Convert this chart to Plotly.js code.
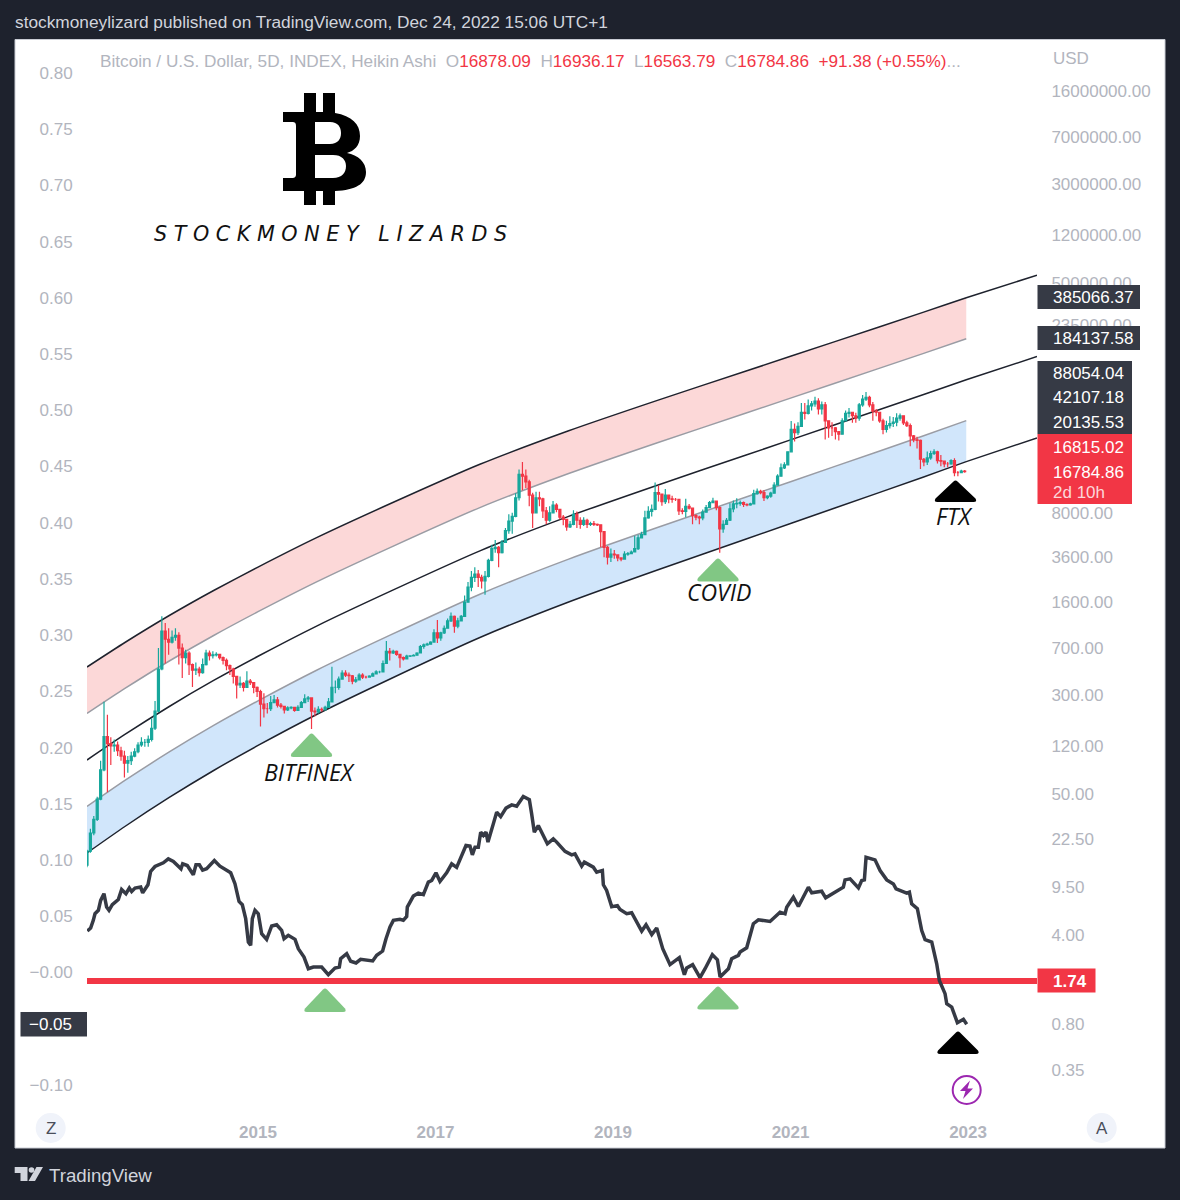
<!DOCTYPE html>
<html><head><meta charset="utf-8">
<script src="https://cdn.plot.ly/plotly-3.0.1.min.js"></script>
<style>html,body{margin:0;padding:0;background:#1e222d}</style></head>
<body><div id="chart" style="width:1180px;height:1200px"></div>
<script>
// ---- Heikin Ashi candles, 14-day steps starting at candleStart (decimal years), USD
const candleStart = 2013.073, candleStepDays = 14;
const candleOpen = [
14,18,25,32,46,78,142,125,120,122,110,100,88,92,100,108,122,128,128,135,165,225,480,950,820,
780,850,880,700,590,640,520,470,480,450,520,640,610,620,625,590,560,510,480,420,360,370,345,385,375,345,
320,255,235,235,262,275,250,245,230,238,240,228,240,262,280,285,225,222,232,230,240,265,345,345,400,445,
430,425,385,395,430,415,415,422,440,455,455,530,660,640,660,625,590,575,605,608,615,640,720,740,750,780,
920,840,920,1000,1140,1240,1040,1140,1240,1600,2100,2500,2650,2500,2350,2550,3400,4200,4300,3900,4700,5800,6900,7500,10500,16000,
15500,14000,11000,8000,10500,10300,8300,7000,8000,9200,8500,7400,7100,6200,6500,7800,7000,6500,7000,6500,6600,6500,6450,5700,4300,3600,
3800,3750,3550,3480,3800,3830,3950,4200,5100,5400,7300,8200,8500,11500,11200,9800,11000,10300,10200,10200,8300,8200,9000,8700,7600,7400,
7300,8100,8800,9600,9900,8800,6000,6500,7000,8600,9400,9500,9600,9300,9250,9400,11300,11800,11500,10500,10800,11400,13200,15500,18000,19000,
24000,36000,34000,38000,49000,48000,55000,57000,60000,52000,56000,42000,37000,37000,34500,33000,42000,48000,49000,46000,44000,56000,62000,64000,56000,50000,
49000,42000,36000,38500,40000,41000,44000,46000,40500,38500,32000,29800,29500,21000,20000,21500,23300,24000,20500,20300,19300,19300,20500,16500,16500,17000];
const candleHigh = [
18.5,27,34,48,92,266,210,140,135,130,118,110,100,108,115,128,140,136,145,198,270,700,1240,1100,1000,
960,1000,930,760,680,660,530,540,500,580,680,670,660,650,630,600,580,520,490,420,420,380,460,400,380,350,
330,310,260,295,300,290,260,248,245,245,240,250,270,305,295,288,240,245,240,248,285,500,390,420,470,470,
450,430,415,445,445,425,428,450,470,465,560,795,700,680,670,630,600,620,615,625,650,740,760,770,790,980,
1160,940,1050,1190,1330,1260,1210,1270,1800,2300,2800,3000,2850,2620,2800,3500,4500,4900,4400,4900,6100,7800,8000,11400,17500,20000,
17500,14500,11500,11700,11700,10500,8900,9000,9900,9500,8600,7700,7200,6900,8400,8200,7400,7400,7200,6800,6900,6600,6500,5700,4400,4200,
4100,3800,3600,4000,3950,4050,5300,5400,5700,8300,9000,9300,13800,13100,11000,12300,11000,10900,10450,10300,8700,10300,9400,8800,7800,7600,
8500,9200,9900,10500,10000,9000,7000,7300,9500,10000,10400,10000,9800,9500,9600,12100,12400,12100,12050,11000,11700,13900,16000,19500,19900,24300,
41900,40000,41000,58000,58000,61700,60000,64800,63000,59500,59000,42500,41000,37500,35000,44000,50500,52900,49500,48500,58000,67000,70500,66000,59000,52000,
49000,43500,42000,45500,45000,48200,48000,46000,42000,40000,32500,31500,30000,21500,24200,24500,25200,24500,22700,20400,20000,21000,21400,17000,17400,17300];
const candleLow = [
13.5,17.5,24,31,45,76,52,85,108,100,92,68,74,85,98,105,118,118,118,130,160,220,470,530,620,
760,800,520,408,530,430,347,430,420,440,510,560,580,600,570,520,470,430,370,282,340,320,340,360,310,290,
170,200,215,225,260,240,235,215,225,232,222,225,238,260,265,163,205,215,222,228,240,262,310,330,395,415,
380,365,375,390,400,405,412,418,435,445,450,525,560,630,610,490,560,570,595,600,610,635,690,730,745,775,
767,800,900,990,1120,920,1000,1130,1230,1580,1950,2300,2100,2050,1830,2500,3350,3900,3000,3850,4650,5500,5500,7400,10000,12000,
12500,9000,6100,7900,9000,7300,6500,6800,7900,8100,7100,6400,5800,6100,6400,6100,6000,6300,6100,6300,6300,6300,4300,3600,3150,3300,
3500,3350,3350,3450,3700,3800,3950,4100,5050,5400,7200,7500,8400,9800,9100,9400,9500,9600,9900,7700,7800,7400,8500,6500,7000,6500,
7000,8000,8700,9500,8400,3900,5600,6500,6900,8100,8700,9100,8900,9000,9100,9300,11100,11200,9900,10200,10500,11300,13100,15400,17600,18800,
23800,28900,32500,37500,43000,47000,50500,54000,47000,47000,30000,31000,32000,30000,29500,32800,41500,44500,40500,40500,42000,54000,60000,53500,42000,45500,
40500,33000,34000,36500,37500,38000,42000,39000,37500,26500,28500,25500,17600,18500,18900,20800,22700,19500,18500,18200,18200,19000,15500,15500,16300,16500];
const candleClose = [
18,25,32,46,78,142,125,120,122,110,100,88,92,100,108,122,128,128,135,165,225,480,950,820,780,
850,880,700,590,640,520,470,480,450,520,640,610,620,625,590,560,510,480,420,360,370,345,385,375,345,320,
255,235,235,262,275,250,245,230,238,240,228,240,262,280,285,225,222,232,230,240,265,345,345,400,445,430,
425,385,395,430,415,415,422,440,455,455,530,660,640,660,625,590,575,605,608,615,640,720,740,750,780,920,
840,920,1000,1140,1240,1040,1140,1240,1600,2100,2500,2650,2500,2350,2550,3400,4200,4300,3900,4700,5800,6900,7500,10500,16000,15500,
14000,11000,8000,10500,10300,8300,7000,8000,9200,8500,7400,7100,6200,6500,7800,7000,6500,7000,6500,6600,6500,6450,5700,4300,3600,3800,
3750,3550,3480,3800,3830,3950,4200,5100,5400,7300,8200,8500,11500,11200,9800,11000,10300,10200,10200,8300,8200,9000,8700,7600,7400,7300,
8100,8800,9600,9900,8800,6000,6500,7000,8600,9400,9500,9600,9300,9250,9400,11300,11800,11500,10500,10800,11400,13200,15500,18000,19000,24000,
36000,34000,38000,49000,48000,55000,57000,60000,52000,56000,42000,37000,37000,34500,33000,42000,48000,49000,46000,44000,56000,62000,64000,56000,50000,49000,
42000,36000,38500,40000,41000,44000,46000,40500,38500,32000,29800,29500,21000,20000,21500,23300,24000,20500,20300,19300,19300,20500,16500,16500,17000,16785];

// ---- Logarithmic regression bands (USD) read at these years
const bandYears = [2013.073,2013.5,2014,2014.5,2015,2015.66,2016.5,2017.5,2018.5,2019.5,2020.5,2021.5,2022.5,2022.98,2023.777];
const bandLine5 = [17.44,28.1,47.4,77.1,121,211.5,404.6,846.5,1606,2858,4994,8732,15260,20135.53,30830];
const bandLine4 = [40.3,64.4,107.6,173.5,270.2,469.2,890.6,1847,3472,6134,10644,18480,32070,42107.18,64170];
const bandLine3 = [93.1,147.5,244.2,390.3,603.6,1040,1960,4032,7507,13170,22680,39090,67380,88054.04,133600];
const bandLine2 = [215.3,337.8,554.3,877.8,1348,2307,4316,8795,16230,28280,48340,82730,141600,184137.58,278200];
const bandLine1 = [497.5,773.6,1258,1975,3011,5116,9502,19190,35100,60700,103000,175000,297400,385066.37,579100];

// ---- Oscillator (left axis)
const oscYears = [2013.077,2013.114,2013.144,2013.163,2013.201,2013.227,2013.264,2013.294,2013.321,2013.358,2013.426,2013.463,2013.512,2013.550,2013.576,2013.614,2013.678,2013.700,2013.760,2013.790,2013.839,2013.933,2013.989,2014.046,2014.132,2014.151,2014.203,2014.271,2014.301,2014.339,2014.376,2014.421,2014.508,2014.571,2014.692,2014.740,2014.786,2014.823,2014.861,2014.891,2014.917,2014.936,2014.966,2015.003,2015.041,2015.097,2015.154,2015.210,2015.266,2015.293,2015.341,2015.417,2015.454,2015.518,2015.567,2015.623,2015.717,2015.792,2015.867,2015.916,2015.931,2015.999,2016.044,2016.104,2016.156,2016.292,2016.337,2016.404,2016.442,
2016.487,2016.525,2016.600,2016.637,2016.675,2016.682,2016.750,2016.806,2016.863,2016.919,2016.957,2017.005,2017.050,2017.125,2017.182,2017.238,2017.295,2017.343,2017.388,2017.415,2017.445,2017.482,2017.509,2017.539,2017.569,2017.591,2017.651,2017.689,2017.734,2017.794,2017.858,2017.914,2017.989,2018.057,2018.083,2018.113,2018.158,2018.215,2018.260,2018.327,2018.365,2018.459,2018.534,2018.571,2018.647,2018.677,2018.778,2018.816,2018.880,2018.891,2018.928,2018.985,2019.049,2019.079,2019.154,2019.210,2019.323,2019.372,2019.436,2019.492,2019.560,2019.642,2019.747,2019.804,2019.830,2019.897,2019.980,
2020.037,2020.119,2020.176,2020.206,2020.300,2020.337,2020.412,2020.431,2020.506,2020.581,2020.638,2020.769,2020.882,2020.938,2020.957,2021.032,2021.088,2021.201,2021.239,2021.351,2021.396,2021.520,2021.595,2021.614,2021.671,2021.765,2021.802,2021.832,2021.851,2021.952,2022.009,2022.084,2022.159,2022.189,2022.309,2022.339,2022.365,2022.429,2022.478,2022.516,2022.591,2022.647,2022.677,2022.741,2022.760,2022.816,2022.880,2022.948,2022.985];
const oscValues = [0.0369,0.0396,0.0464,0.0523,0.0553,0.0641,0.0701,0.0582,0.0553,0.0603,0.0650,0.0739,0.0701,0.0751,0.0721,0.0751,0.0760,0.0709,0.0780,0.0899,0.0943,0.0976,0.1011,0.0988,0.0923,0.0967,0.0952,0.0869,0.0958,0.0958,0.0911,0.0923,0.0996,0.0946,0.0887,0.0790,0.0632,0.0603,0.0479,0.0271,0.0242,0.0479,0.0553,0.0523,0.0345,0.0295,0.0414,0.0425,0.0375,0.0301,0.0331,0.0295,0.0212,0.0138,0.0034,0.0049,0.0049,-0.0019,0.0040,0.0049,0.0123,0.0168,0.0100,0.0085,0.0117,0.0103,0.0153,0.0191,0.0301,
0.0405,0.0464,0.0473,0.0464,0.0499,0.0582,0.0680,0.0706,0.0692,0.0804,0.0819,0.0887,0.0810,0.0887,0.0967,0.0935,0.1035,0.1130,0.1124,0.1047,0.1115,0.1115,0.1248,0.1219,0.1248,0.1160,0.1322,0.1426,0.1387,0.1462,0.1491,0.1479,0.1565,0.1538,0.1411,0.1248,0.1307,0.1219,0.1145,0.1189,0.1160,0.1077,0.1047,0.1056,0.0946,0.0982,0.0937,0.0893,0.0908,0.0780,0.0730,0.0586,0.0595,0.0561,0.0523,0.0532,0.0369,0.0425,0.0337,0.0396,0.0212,0.0070,0.0132,-0.0019,0.0040,0.0070,-0.0045,
0.0034,0.0158,0.0114,-0.0040,0.0034,0.0123,0.0153,0.0182,0.0220,0.0434,0.0469,0.0454,0.0537,0.0522,0.0581,0.0670,0.0587,0.0759,0.0709,0.0723,0.0664,0.0723,0.0759,0.0824,0.0833,0.0753,0.0818,0.0824,0.1025,0.1002,0.0907,0.0824,0.0788,0.0744,0.0706,0.0715,0.0611,0.0567,0.0374,0.0292,0.0271,0.0078,-0.0070,-0.0188,-0.0277,-0.0307,-0.0446,-0.0416,-0.0460];

// ---- Horizontal level (USD) and axis ticks
const levelValue = 1.74;
const xTickYears = [2015,2017,2019,2021,2023];
const leftTickVals = [0.8,0.75,0.7,0.65,0.6,0.55,0.5,0.45,0.4,0.35,0.3,0.25,0.2,0.15,0.1,0.05,0,-0.1];
const leftTickText = ['0.80','0.75','0.70','0.65','0.60','0.55','0.50','0.45','0.40','0.35','0.30','0.25','0.20','0.15','0.10','0.05','\u22120.00','\u22120.10'];
const rightTickVals = [16000000,7000000,3000000,1200000,500000,235000,8000,3600,1600,700,300,120,50,22.5,9.5,4,0.8,0.35];
const rightTickText = ['16000000.00','7000000.00','3000000.00','1200000.00','500000.00','235000.00','8000.00','3600.00','1600.00','700.00','300.00','120.00','50.00','22.50','9.50','4.00','0.80','0.35'];

// ---- page geometry helpers
const L=87,R=1037,T=40,B=1114;
const px=x=>(x-L)/(R-L), py=y=>(B-y)/(B-T);
const FONT='"Liberation Sans", Arial, sans-serif';
const GREY='#b2b5be', RED='#f23645', DARK='#363a45', GREEN='#81c784';

function pathFrom(cmds){
  return cmds.map(c=>{
    if(c[0]==='Z') return 'Z';
    let s=c[0];
    for(let i=1;i<c.length;i+=2){ s+=(i>1?' ':'')+px(c[i]).toFixed(5)+','+py(c[i+1]).toFixed(5); }
    return s;
  }).join(' ');
}
const shapes=[];
function addShape(cmds,fill,extra){ shapes.push(Object.assign({type:'path',xref:'paper',yref:'paper',path:pathFrom(cmds),fillcolor:fill,line:{width:0},layer:'above'},extra||{})); }
function rect(x0,y0,x1,y1,fill,layer,line){ shapes.push({type:'rect',xref:'paper',yref:'paper',x0:px(x0),x1:px(x1),y0:py(y0),y1:py(y1),fillcolor:fill,line:line||{width:0},layer:layer||'above'}); }
function circle(cx,cy,r,fill,line){ shapes.push({type:'circle',xref:'paper',yref:'paper',x0:px(cx-r),x1:px(cx+r),y0:py(cy-r),y1:py(cy+r),fillcolor:fill,line:line||{width:0},layer:'above'}); }
function triangle(cx,top,base,fill){
  const h=21;
  addShape([['M',cx-2,top+1.5],['Q',cx,top-0.5,cx+2,top+1.5],['L',cx+h-1,base-3.5],['Q',cx+h+1,base,cx+h-3,base],['L',cx-h+3,base],['Q',cx-h-1,base,cx-h+1,base-3.5],['Z']],fill);
}
rect(15,39.5,1165,1148,'#ffffff','below',{width:1,color:'#c9ccd4'});
rect(1037.5,285,1140,309,DARK); rect(1037.5,326,1140,350,DARK);
rect(1037.5,361,1132,434,DARK); rect(1037.5,434,1132,504,RED);
rect(1037.5,968.5,1095.5,992.5,RED); rect(20.5,1012,87,1036.5,DARK);
triangle(311.5,733,757,GREEN); triangle(718,558,581.5,GREEN); triangle(955.5,480,502,'#000000');
triangle(325,988,1012,GREEN); triangle(718,986,1009.5,GREEN); triangle(958,1031,1054,'#000000');
addShape([['M',283,112],['L',304,112],['L',304,93],['L',316,93],['L',316,112],['L',323,112],['L',323,93],['L',335,93],['L',335,113],
  ['C',352,116,360,124,360,136],['C',360,146,354,151,347,153],['C',358,155,366,162,366,172],['C',366,184,356,190,335,191],
  ['L',335,205],['L',323,205],['L',323,191],['L',316,191],['L',316,205],['L',304,205],['L',304,191],['L',283,191],['L',283,178],['L',292,178],
  ['C',295,178,296,177,296,174],['L',296,126],['C',296,123,295,122,292,122],['L',283,122],['Z'],
  ['M',315,122],['L',315,144],['L',330,144],['C',338,144,341,139,341,133],['C',341,127,338,122,330,122],['Z'],
  ['M',315,155],['L',315,178],['L',333,178],['C',342,178,346,173,346,166],['C',346,160,342,155,333,155],['Z']],'#000000',{fillrule:'evenodd'});
circle(50.7,1128,15,'#f0f3fa'); circle(1101.7,1128,15,'#f0f3fa');
circle(966.7,1090,14,'#ffffff',{width:2,color:'#9c27b0'});
addShape([['M',970,1080.5],['L',960,1091],['L',965.5,1091],['L',963,1099],['L',973,1088.5],['L',967.5,1088.5],['Z']],'#9c27b0');
addShape([['M',14.7,1167],['L',27.5,1167],['L',27.5,1181],['L',20.5,1181],['L',20.5,1173],['L',14.7,1173],['Z'],
  ['M',36.5,1167],['L',43,1167],['L',35,1181],['L',28.5,1181],['Z']],'#d1d4dc');
circle(31.5,1170,2.8,'#d1d4dc');

function note(text,x,y,size,color,anchor,family){
  return {text:text,xref:'paper',yref:'paper',x:px(x),y:py(y),xanchor:anchor||'left',yanchor:'middle',showarrow:false,borderpad:0,
          font:{family:family||FONT,size:size,color:color}};
}
const g=t=>'<span style="color:'+GREY+'">'+t+'</span>', r=t=>'<span style="color:'+RED+'">'+t+'</span>';
const NB='\u00a0\u00a0';
const annotations=[
 note('stockmoneylizard published on TradingView.com, Dec 24, 2022 15:06 UTC+1',13.5,22,17.3,'#d1d4dc'),
 note(g('Bitcoin / U.S. Dollar, 5D, INDEX, Heikin Ashi'+NB+'O')+r('16878.09')+g(NB+'H')+r('16936.17')+g(NB+'L')+r('16563.79')+g(NB+'C')+r('16784.86'+NB+'+91.38 (+0.55%)')+g('...'),98.5,61,17.2,GREY),
 note('USD',1051.5,58,17,GREY),
 note('385066.37',1051.5,297,17,'#ffffff'), note('184137.58',1051.5,338,17,'#ffffff'),
 note('88054.04',1051.5,373,17,'#ffffff'), note('42107.18',1051.5,397.5,17,'#ffffff'), note('20135.53',1051.5,422.5,17,'#ffffff'),
 note('16815.02',1051.5,447.5,17,'#ffffff'), note('16784.86',1051.5,472,17,'#ffffff'), note('2d 10h',1051.5,492,17,'#fcd7da'),
 note('<b>1.74</b>',1051.5,981,17,'#ffffff'),
 note('\u22120.05',72.5,1024.5,17,'#ffffff','right'),
 note('<i>S T O C K M O N E Y   L I Z A R D S</i>',153,234,20.7,'#111111','left','"DejaVu Sans", sans-serif'),
 note('<i>BITFINEX</i>',309,772,23,'#111111','center','"Open Sans", sans-serif'),
 note('<i>COVID</i>',718.5,592,23,'#111111','center','"Open Sans", sans-serif'),
 note('<i>FTX</i>',954,516,23,'#111111','center','"Open Sans", sans-serif'),
 note('Z',50.7,1128,17,'#4a4e5a','center'), note('A',1101.7,1128,17,'#4a4e5a','center'),
 note('TradingView',47.5,1175,18.7,'#d1d4dc')
];

const candleX=candleOpen.map((_,i)=>candleStart+i*candleStepDays/365.25);
const n14=14;
function bandFill(lo,hi,color){
  return [{type:'scatter',mode:'lines',x:bandYears.slice(0,n14),y:lo.slice(0,n14),yaxis:'y2',line:{width:0,shape:'spline',smoothing:0.6},hoverinfo:'skip',showlegend:false},
          {type:'scatter',mode:'lines',x:bandYears.slice(0,n14),y:hi.slice(0,n14),yaxis:'y2',fill:'tonexty',fillcolor:color,line:{width:0,shape:'spline',smoothing:0.6},hoverinfo:'skip',showlegend:false}];
}
function bandLine(vals,count,color,w){
  return {type:'scatter',mode:'lines',x:bandYears.slice(0,count),y:vals.slice(0,count),yaxis:'y2',line:{color:color,width:w,shape:'spline',smoothing:0.6},hoverinfo:'skip',showlegend:false};
}
const traces=[
 {type:'scatter',mode:'lines',x:[candleStart],y:[0],yaxis:'y',line:{width:0},hoverinfo:'skip',showlegend:false},
 ...bandFill(bandLine5,bandLine4,'#d1e6fb'),
 ...bandFill(bandLine2,bandLine1,'#fcd8d8'),
 bandLine(bandLine1,15,'#1e222d',1.5),
 bandLine(bandLine2,14,'#9a9ca4',1.5),
 bandLine(bandLine3,15,'#1e222d',1.5),
 bandLine(bandLine4,14,'#9a9ca4',1.5),
 bandLine(bandLine5,15,'#1e222d',1.5),
 {type:'scatter',mode:'lines',x:[candleStart,2023.777],y:[levelValue,levelValue],yaxis:'y2',line:{color:RED,width:6},hoverinfo:'skip',showlegend:false},
 {type:'candlestick',x:candleX,open:candleOpen,high:candleHigh,low:candleLow,close:candleClose,yaxis:'y3',
  increasing:{line:{color:'#17a79c',width:1.2},fillcolor:'#17a79c'},decreasing:{line:{color:RED,width:1.2},fillcolor:RED},showlegend:false},
 {type:'scatter',mode:'lines',x:oscYears,y:oscValues,yaxis:'y4',line:{color:'#363a45',width:3.5},hoverinfo:'skip',showlegend:false}
];
const hiddenAxis=(extra)=>Object.assign({overlaying:'y',anchor:'x',showticklabels:false,ticks:'',showgrid:false,zeroline:false,showline:false,fixedrange:true},extra);
const layout={
 width:1180,height:1200,autosize:false,
 margin:{l:L,r:1180-R,t:T,b:1200-B,pad:0},
 paper_bgcolor:'#1e222d',plot_bgcolor:'rgba(0,0,0,0)',showlegend:false,boxgap:0.15,
 xaxis:{type:'linear',range:[candleStart,2023.777],tickmode:'array',tickvals:xTickYears,ticktext:xTickYears.map(y=>'<b>'+y+'</b>'),
   ticks:'outside',ticklen:3,tickcolor:'rgba(0,0,0,0)',tickfont:{family:FONT,size:17,color:GREY},showgrid:false,zeroline:false,showline:false,rangeslider:{visible:false},fixedrange:true},
 yaxis:{type:'linear',range:[-0.1258,0.8293],tickmode:'array',tickvals:leftTickVals,ticktext:leftTickText,
   ticks:'outside',ticklen:10,tickcolor:'rgba(0,0,0,0)',tickfont:{family:FONT,size:17,color:GREY},showgrid:false,zeroline:false,showline:false,fixedrange:true},
 yaxis2:{type:'log',range:[-0.801,7.603],overlaying:'y',side:'right',anchor:'x',tickmode:'array',tickvals:rightTickVals,ticktext:rightTickText,
   ticks:'outside',ticklen:10,tickcolor:'rgba(0,0,0,0)',tickfont:{family:FONT,size:17,color:GREY},showgrid:false,zeroline:false,showline:false,fixedrange:true},
 yaxis3:hiddenAxis({type:'log',range:[-0.801,7.603],side:'right'}),
 yaxis4:hiddenAxis({type:'linear',range:[-0.1258,0.8293],side:'left'}),
 shapes:shapes,annotations:annotations
};
Plotly.newPlot('chart',traces,layout,{staticPlot:true,displayModeBar:false});
</script></body></html>
